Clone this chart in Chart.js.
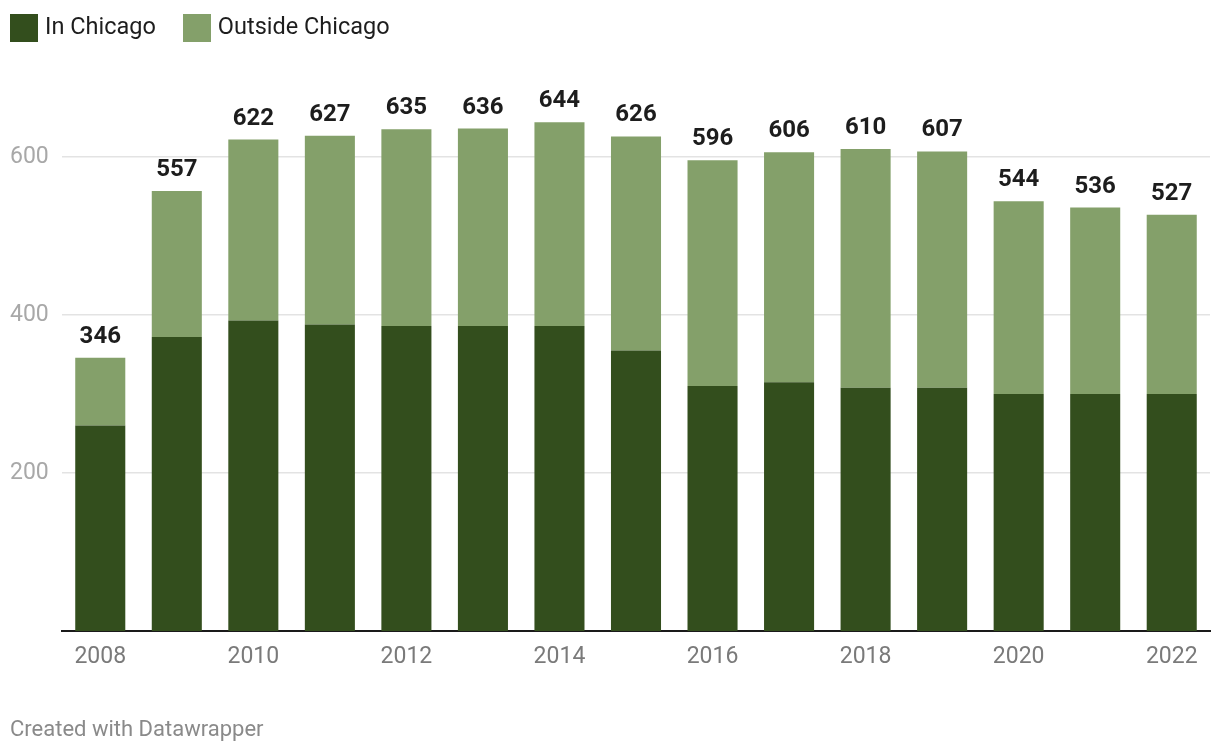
<!DOCTYPE html>
<html lang="en">
<head>
  <meta charset="UTF-8">
  <title>In Chicago vs Outside Chicago</title>
  <script src="https://cdn.jsdelivr.net/npm/chart.js"></script>
  <style>
    body {
      margin: 0;
      width: 1220px;
      height: 754px;
      position: relative;
      background: #fff;
      font-family: Roboto, "Noto Sans", sans-serif;
      overflow: hidden;
    }
    #chart {
      position: absolute;
      left: 0;
      top: 0;
    }
    .legend {
      position: absolute;
      top: 14px;
      left: 10px;
      display: flex;
      align-items: center;
      font-size: 23.5px;
      line-height: 24px;
      color: #1d1d1d;
    }
    .legend span.box {
      display: inline-block;
      width: 28px;
      height: 28px;
      margin-right: 7px;
    }
    .legend .item {
      display: flex;
      align-items: center;
      margin-right: 27px;
    }
    .legend .item .txt {
      position: relative;
      top: -2px;
    }
    .footer {
      position: absolute;
      left: 10px;
      top: 716px;
      font-size: 22px;
      color: #8a8a8a;
    }
  </style>
</head>
<body>
  <canvas id="chart" width="1220" height="754"></canvas>
  <div class="legend">
    <div class="item"><span class="box" style="background:#334e1d"></span><span class="txt">In Chicago</span></div>
    <div class="item"><span class="box" style="background:#84a06a"></span><span class="txt">Outside Chicago</span></div>
  </div>
  <div class="footer">Created with Datawrapper</div>

  <script>
    const years = ['2008', '2009', '2010', '2011', '2012', '2013', '2014', '2015',
                   '2016', '2017', '2018', '2019', '2020', '2021', '2022'];
    const inChicago = [260, 372, 393, 388, 386, 386, 386, 355, 310, 315, 308, 308, 300, 300, 300];
    const outsideChicago = [86, 185, 229, 239, 249, 250, 258, 271, 286, 291, 302, 299, 244, 236, 227];
    const totals = [346, 557, 622, 627, 635, 636, 644, 626, 596, 606, 610, 607, 544, 536, 527];
    const yTicks = [200, 400, 600];

    // total above each stacked bar
    const totalLabels = {
      id: 'totalLabels',
      afterDatasetsDraw(chart) {
        const ctx = chart.ctx;
        const meta = chart.getDatasetMeta(1);
        ctx.save();
        ctx.font = 'bold 24px Roboto';
        ctx.fillStyle = '#1d1d1d';
        ctx.textAlign = 'center';
        ctx.textBaseline = 'alphabetic';
        meta.data.forEach((bar, i) => {
          ctx.fillText(totals[i], bar.x, bar.y - 15);
        });
        ctx.restore();
      }
    };

    const chart = new Chart(document.getElementById('chart'), {
      type: 'bar',
      data: {
        labels: years,
        datasets: [{
          label: 'In Chicago',
          data: inChicago,
          backgroundColor: '#334e1d'
        }, {
          label: 'Outside Chicago',
          data: outsideChicago,
          backgroundColor: '#84a06a'
        }]
      },
      options: {
        responsive: false,
        animation: false,
        categoryPercentage: 1,
        barPercentage: 0.654,
        layout: {
          padding: { left: 10, right: 10, top: 78, bottom: 78 }
        },
        plugins: {
          legend: { display: false },
          tooltip: { enabled: false }
        },
        scales: {
          x: {
            stacked: true,
            grid: { display: false, drawTicks: false },
            border: { color: '#1a1a1a', width: 2 },
            ticks: {
              autoSkip: false,
              maxRotation: 0,
              padding: 12,
              color: '#7a7a7a',
              font: { family: 'Roboto', size: 23 },
              callback: (v, i) => (i % 2 === 0 ? years[i] : '')
            },
            afterFit: (scale) => { scale.height = 45; }
          },
          y: {
            stacked: true,
            min: 0,
            max: 700,
            border: { display: false },
            grid: { color: '#e3e3e3', lineWidth: 1.5, drawTicks: false },
            afterBuildTicks: (scale) => { scale.ticks = yTicks.map(v => ({ value: v })); },
            ticks: {
              crossAlign: 'far',
              padding: 0,
              color: '#a8a8a8',
              font: { family: 'Roboto', size: 23 }
            },
            afterFit: (scale) => { scale.width = 52; }
          }
        }
      },
      plugins: [totalLabels]
    });
  </script>
</body>
</html>
